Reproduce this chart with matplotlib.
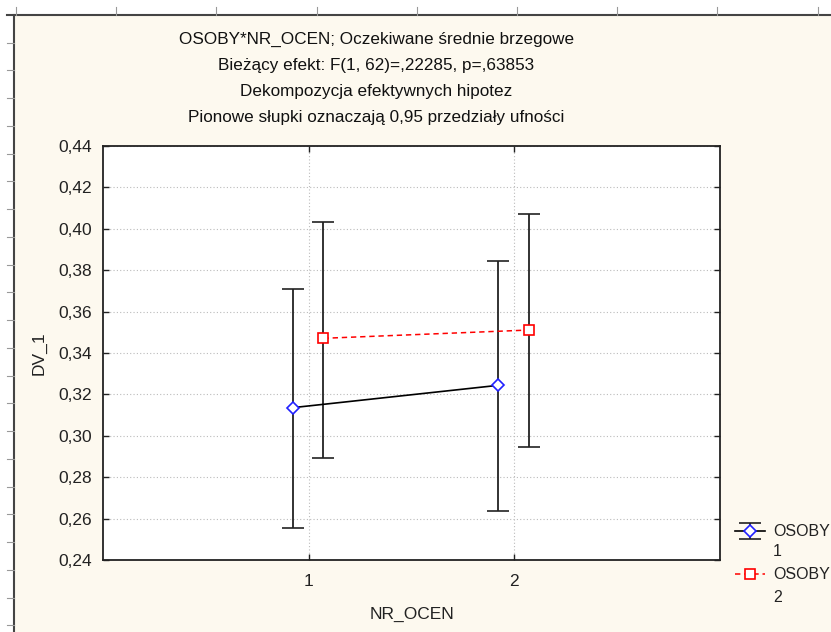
import numpy as np
import matplotlib
matplotlib.use("Agg")
import matplotlib.pyplot as plt
from matplotlib.lines import Line2D
from matplotlib.patches import Rectangle
from matplotlib.ticker import FuncFormatter

plt.rcParams['font.family'] = ['Liberation Sans', 'DejaVu Sans']

# data (means and 0.95 CI bounds)
nr_ocen = [1, 2]
osoby1_mean = [0.3136, 0.3244]
osoby1_low = [0.2553, 0.2635]
osoby1_high = [0.3709, 0.3844]
osoby2_mean = [0.3471, 0.3511]
osoby2_low = [0.2894, 0.2947]
osoby2_high = [0.4034, 0.4071]
series_names = ["OSOBY", "OSOBY"]
series_levels = ["1", "2"]
title_lines = [
    "OSOBY*NR_OCEN; Oczekiwane średnie brzegowe",
    "Bieżący efekt: F(1, 62)=,22285, p=,63853",
    "Dekompozycja efektywnych hipotez",
    "Pionowe słupki oznaczają 0,95 przedziały ufności",
]

W, H = 831, 632
fig = plt.figure(figsize=(W / 100, H / 100), dpi=100)
fig.patch.set_facecolor("white")

def fx(px):
    return px / W

def fy(py):
    return 1 - py / H

# cream sheet background + ruler border like the spreadsheet screenshot
fig.add_artist(Rectangle((fx(14), 0), 1, fy(15), transform=fig.transFigure,
                         facecolor="#fdf9ef", edgecolor="none", zorder=-10))
fig.add_artist(Line2D([fx(7), 1], [fy(15), fy(15)], transform=fig.transFigure,
                      color="#444444", lw=1.5))
fig.add_artist(Line2D([fx(14), fx(14)], [fy(15), 0], transform=fig.transFigure,
                      color="#444444", lw=1.5))
for tx in np.arange(16, W, 100.2):
    fig.add_artist(Line2D([fx(tx), fx(tx)], [fy(7), fy(15)], transform=fig.transFigure,
                          color="#999999", lw=0.8))
for ty in np.arange(42.7, H, 27.75):
    fig.add_artist(Line2D([fx(7), fx(14)], [fy(ty), fy(ty)], transform=fig.transFigure,
                          color="#999999", lw=0.8))

ax = fig.add_axes([fx(103), fy(560), fx(720) - fx(103), fy(146) - fy(560)])
ax.set_facecolor("white")

x = np.array(nr_ocen, dtype=float)
m1 = np.array(osoby1_mean)
m2 = np.array(osoby2_mean)
err1 = [m1 - np.array(osoby1_low), np.array(osoby1_high) - m1]
err2 = [m2 - np.array(osoby2_low), np.array(osoby2_high) - m2]

eb1 = ax.errorbar(x - 0.077, m1, yerr=err1, color="black", lw=1.2,
                  marker="D", ms=6, mfc="white", mec="#2020ff", mew=1.2,
                  ecolor="#222222", elinewidth=1.3, capsize=8, capthick=1.3, zorder=3)
eb2 = ax.errorbar(x + 0.072, m2, yerr=err2, color="red", lw=1.1, ls=(0, (3.5, 2.5)),
                  marker="s", ms=6.5, mfc="white", mec="red", mew=1.2,
                  ecolor="#222222", elinewidth=1.3, capsize=8, capthick=1.3, zorder=3)

ax.set_xlim(0, 3)
ax.set_ylim(0.24, 0.44)
ax.set_xticks(nr_ocen)
ax.set_yticks(np.arange(0.24, 0.4401, 0.02))
ax.yaxis.set_major_formatter(FuncFormatter(lambda v, p: f"{v:.2f}".replace(".", ",")))
ax.grid(True, ls=(0, (1, 2)), color="#bbbbbb", lw=0.8)
ax.set_axisbelow(True)
ax.tick_params(direction="in", length=4, width=1, top=True, right=True,
               labelsize=12.5, colors="#222222")
ax.tick_params(axis="y", pad=8)
ax.tick_params(axis="x", pad=10)
for s in ax.spines.values():
    s.set_linewidth(1.3)
    s.set_color("#222222")

ax.set_ylabel("DV_1", fontsize=12.5, color="#222222")
ax.yaxis.set_label_coords(-0.092, 0.5)
ax.set_xlabel("NR_OCEN", fontsize=12.5, color="#222222")
ax.xaxis.set_label_coords(0.5, -0.112)

for i, line in enumerate(title_lines):
    fig.text(fx(376.5), fy(39 + 26.3 * i), line, ha="center", va="center",
             fontsize=12.3, color="#111111")

leg = fig.legend([eb1, eb2.lines[0]], series_names, loc="upper left",
                 bbox_to_anchor=(fx(729), fy(518)), frameon=False, fontsize=11.5,
                 handlelength=1.85, handletextpad=0.5, labelspacing=1.75,
                 borderaxespad=0)
for t in leg.get_texts():
    t.set_color("#222222")
# second line of each legend label (factor level)
for i, lvl in enumerate(series_levels):
    fig.text(fx(773), fy(551 + 46 * i), lvl, ha="left", va="center",
             fontsize=11.5, color="#222222")

fig.savefig("out.png", dpi=100)
